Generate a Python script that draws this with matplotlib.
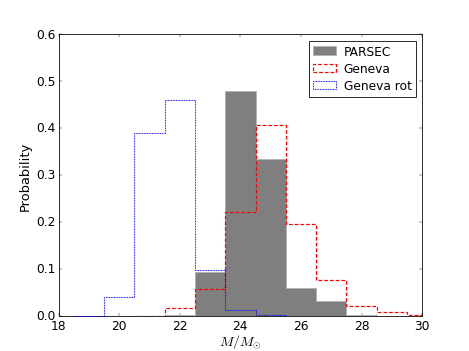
import matplotlib
matplotlib.use("Agg")
import matplotlib.pyplot as plt
import numpy as np

# bin edges (1 Msun wide) and probabilities
parsec_edges = np.arange(21.5, 29.0, 1.0)
parsec = [0.002, 0.093, 0.48, 0.335, 0.06, 0.032, 0.002]

geneva_edges = np.arange(20.5, 31.0, 1.0)
geneva = [0.0, 0.017, 0.058, 0.222, 0.406, 0.196, 0.077, 0.021, 0.008, 0.002]

rot_edges = np.arange(18.5, 26.0, 1.0)
geneva_rot = [0.0, 0.04, 0.39, 0.461, 0.098, 0.013, 0.001]

xticks = [18, 20, 22, 24, 26, 28, 30]
yticks = [0.0, 0.1, 0.2, 0.3, 0.4, 0.5, 0.6]


def mids(e):
    return 0.5 * (e[:-1] + e[1:])


plt.style.use("classic")
fig = plt.figure(figsize=(8, 6), dpi=58.625)
fig.patch.set_facecolor("white")
ax = fig.add_subplot(111)

ax.hist(mids(parsec_edges), bins=parsec_edges, weights=parsec, histtype="stepfilled",
        facecolor="#7f7f7f", edgecolor="#b4b4b4", linewidth=1.2, label="PARSEC", zorder=3)
ax.hist(mids(geneva_edges), bins=geneva_edges, weights=geneva, histtype="step",
        edgecolor="red", fill=False, linestyle=(0, (4.5, 2.5)), linewidth=1.5,
        label="Geneva", zorder=3)
_, _, p_rot = ax.hist(mids(rot_edges), bins=rot_edges, weights=geneva_rot, histtype="step",
                      edgecolor="blue", fill=False, linestyle=(0, (1.0, 1.0)), linewidth=1.3,
                      label="Geneva rot", zorder=3)
for p in p_rot:
    p.set_clip_on(False)

ax.set_xlim(18, 30)
ax.set_ylim(0, 0.6)
ax.set_xticks(xticks)
ax.set_yticks(yticks)
ax.set_xlabel(r"$M/M_{\odot}$", fontsize=17, labelpad=0)
ax.set_ylabel("Probability", fontsize=16)
ax.tick_params(labelsize=15)

ax.legend(loc="upper right", fontsize=15, handlelength=1.9, labelspacing=0.35,
          borderpad=0.35, handletextpad=0.6)

fig.savefig("out.png", dpi=58.625, facecolor="white")
